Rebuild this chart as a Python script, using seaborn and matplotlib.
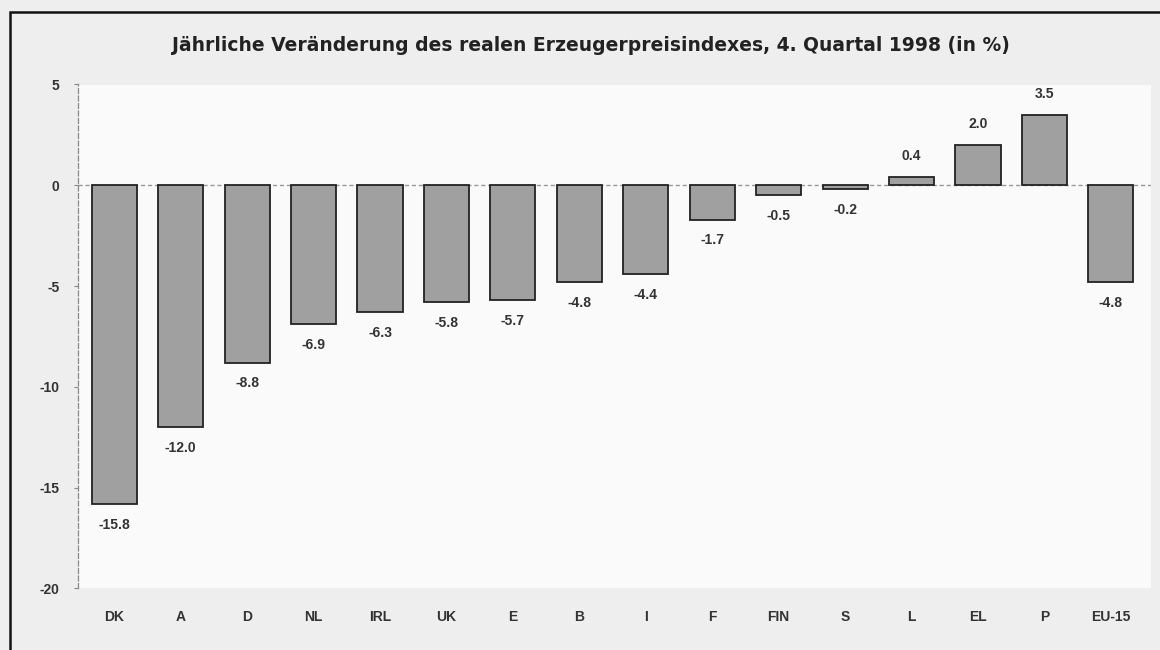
import matplotlib
matplotlib.use("Agg")
import matplotlib.pyplot as plt
import seaborn as sns
from matplotlib.patches import Rectangle

countries = ['DK', 'A', 'D', 'NL', 'IRL', 'UK', 'E', 'B', 'I', 'F', 'FIN', 'S', 'L', 'EL', 'P', 'EU-15']
change = [-15.8, -12.0, -8.8, -6.9, -6.3, -5.8, -5.7, -4.8, -4.4, -1.7, -0.5, -0.2, 0.4, 2.0, 3.5, -4.8]
yticks = [5, 0, -5, -10, -15, -20]

sns.set_theme(style="white")
plt.rcParams['font.family'] = ['Liberation Sans', 'DejaVu Sans']

fig = plt.figure(figsize=(11.6, 6.5), dpi=100, facecolor='#eeeeee')
ax = fig.add_axes([0.067, 0.095, 0.925, 0.775])
ax.set_facecolor('#fafafa')

sns.barplot(x=countries, y=change, color='#a0a0a0', edgecolor='#222222',
            linewidth=1.3, width=0.68, saturation=1, ax=ax)

# zero line
ax.axhline(0, color='#999999', lw=1, ls=(0, (3, 2)), zorder=0)

for i, v in enumerate(change):
    off = 10 if v > 0 else -10
    va = 'bottom' if v > 0 else 'top'
    ax.annotate(f"{v:.1f}", (i, v), xytext=(0, off), textcoords='offset points',
                ha='center', va=va, fontsize=10, fontweight='bold', color='#333333')

ax.set_ylim(-20, 5)
ax.set_xlim(-0.55, 15.6)
ax.set_yticks(yticks)
ax.set_yticklabels([str(t) for t in yticks], fontsize=10, fontweight='bold', color='#333333')
ax.set_xticks(range(len(countries)))
ax.set_xticklabels(countries, fontsize=10, fontweight='bold', color='#333333')
ax.tick_params(axis='x', length=0, pad=16)
ax.tick_params(axis='y', length=3, width=0.8, color='#888888', left=True, pad=10)
ax.set_xlabel('')
ax.set_ylabel('')

for s in ['top', 'right', 'bottom']:
    ax.spines[s].set_visible(False)
ax.spines['left'].set_color('#888888')
ax.spines['left'].set_linestyle((0, (4, 2)))
ax.spines['left'].set_linewidth(0.9)

fig.text(0.509, 0.93, 'Jährliche Veränderung des realen Erzeugerpreisindexes, 4. Quartal 1998 (in %)',
         ha='center', va='center', fontsize=13.5, fontweight='bold', color='#222222',
         family='DejaVu Sans')

# outer frame
fig.patches.append(Rectangle((0.009, -0.01), 1.2, 0.992, transform=fig.transFigure,
                             fill=False, edgecolor='#111111', lw=1.8))

fig.savefig('out.png', dpi=100, facecolor=fig.get_facecolor())
